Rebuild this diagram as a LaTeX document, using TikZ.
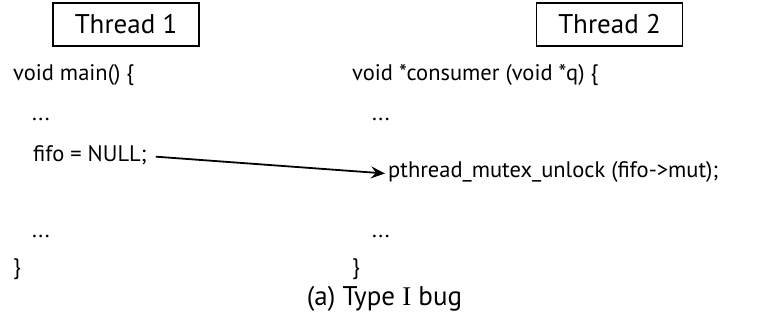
\documentclass[tikz,border=0pt]{standalone}
\usepackage{fontspec}
\setmainfont{PT Sans}
\newfontfamily\romfont{Liberation Serif}
\usetikzlibrary{arrows.meta}

\begin{document}
\begin{tikzpicture}[x=1pt,y=-1pt,
    code/.style={anchor=base west,inner sep=0pt,font=\fontsize{22.5}{27}\selectfont},
    thread/.style={draw,line width=1.2pt,minimum width=146pt,minimum height=43pt,inner sep=0pt,font=\fontsize{27}{32}\selectfont},
    flow/.style={line width=1.8pt,-{Stealth[length=14pt,width=12pt,inset=5pt]}}]
\useasboundingbox (0,0) rectangle (772,320);
\node[thread] (t1box) at (126,24.5) {Thread 1} ; % thread 1 header
\node[thread] (t2box) at (609.5,24.5) {Thread 2} ; % thread 2 header
\node[code] (main) at (13,81) {void main() \{} ;
\node[code] (mdots1) at (32,121) {...} ;
\node[code] (fifo) at (33,162) {fifo = NULL;} ;
\node[code] (mdots2) at (32,238) {...} ;
\node[code] (mclose) at (13,275) {\}} ;
\node[code] (cons) at (352,81) {void *consumer (void *q) \{} ;
\node[code] (cdots1) at (372,121) {...} ;
\node[code] (unlock) at (388,178) {pthread\_mutex\_unlock (fifo->mut);} ;
\node[code] (cdots2) at (372,238) {...} ;
\node[code] (cclose) at (352,275) {\}} ;
\node[code,anchor=base,font=\fontsize{27}{32}\selectfont] (caption) at (384.5,306) {(a) Type {\romfont I} bug} ; % caption
\draw[flow] ([xshift=9pt,yshift=-1pt]fifo.east) -- ([xshift=-3pt,yshift=-1pt]unlock.west) ; % the race
\end{tikzpicture}
\end{document}
